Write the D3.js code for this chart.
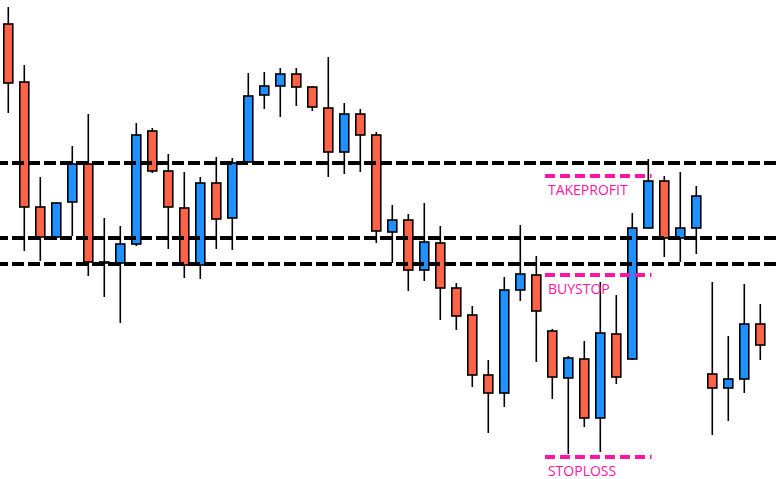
<!DOCTYPE html>
<html>
<head>
<meta charset="utf-8">
<script src="https://cdn.jsdelivr.net/npm/d3@7"></script>
<style>
  html, body { margin: 0; padding: 0; background: #fff; }
  svg { display: block; }
</style>
</head>
<body>
<div id="chart"></div>
<script>
// OHLC values (arbitrary price units)
const opens  = [455, 397, 272, 242, 277, 315, 217, 216, 235, 348, 308, 271, 214, 296, 261, 317,
                384, 393, 405, 392, 371, 327, 365, 344, 247, 259, 209, 236, 191, 164, 104, 86,
                189, 204, 148, 101, 120, 61, 145, 120, 251, 298, 241, 251, 105, 91, 100, 155];
const highs  = [472, 414, 302, 277, 333, 365, 261, 253, 356, 351, 325, 307, 302, 322, 321, 406,
                407, 411, 411, 393, 422, 376, 370, 347, 274, 265, 276, 253, 196, 173, 119, 202,
                254, 223, 150, 123, 138, 197, 184, 266, 320, 303, 307, 293, 197, 143, 195, 175];
const lows   = [366, 228, 218, 239, 243, 203, 182, 156, 233, 306, 230, 201, 200, 230, 229, 317,
                370, 362, 373, 368, 302, 305, 307, 236, 216, 188, 198, 159, 149, 92, 46, 72,
                178, 117, 80, 25, 52, 27, 95, 119, 251, 222, 217, 225, 44, 58, 86, 119];
const closes = [396, 272, 242, 276, 315, 217, 216, 235, 344, 308, 272, 214, 296, 260, 316, 383,
                393, 405, 392, 372, 327, 365, 344, 248, 259, 209, 237, 191, 163, 104, 86, 189,
                205, 168, 102, 121, 61, 146, 102, 251, 298, 241, 251, 283, 91, 100, 155, 134];

// horizontal support / resistance levels
const levels = [316, 241, 215];

// pending order levels
const orderNames  = ['TAKEPROFIT', 'BUYSTOP', 'STOPLOSS'];
const orderValues = [303, 204, 22];

const width = 780;
const height = 479;

const candles = opens.map((o, i) => ({ i: i, o: o, h: highs[i], l: lows[i], c: closes[i] }));

const svg = d3.select('#chart')
    .append('svg')
    .attr('width', width)
    .attr('height', height);

const xScale = d3.scaleLinear()
    .domain([0, candles.length - 1])
    .range([8.3, 760.3]);

const yScale = d3.scaleLinear()
    .domain([0, 479])
    .range([height, 0]);

const bodyW = 9;

// wicks
svg.append('g')
    .selectAll('line')
    .data(candles)
    .enter()
    .append('line')
    .attr('x1', d => xScale(d.i))
    .attr('x2', d => xScale(d.i))
    .attr('y1', d => yScale(d.h))
    .attr('y2', d => yScale(d.l))
    .attr('stroke', '#000')
    .attr('stroke-width', 1.6);

// bodies
svg.append('g')
    .selectAll('rect')
    .data(candles)
    .enter()
    .append('rect')
    .attr('x', d => xScale(d.i) - bodyW / 2)
    .attr('y', d => yScale(Math.max(d.o, d.c)))
    .attr('width', bodyW)
    .attr('height', d => Math.abs(yScale(d.o) - yScale(d.c)))
    .attr('fill', d => d.c >= d.o ? '#1e90ff' : '#ff6347')
    .attr('stroke', '#000')
    .attr('stroke-width', 1.6);

// black dashed levels
svg.append('g')
    .selectAll('line')
    .data(levels)
    .enter()
    .append('line')
    .attr('x1', 0)
    .attr('x2', 776)
    .attr('y1', d => yScale(d))
    .attr('y2', d => yScale(d))
    .attr('stroke', '#000')
    .attr('stroke-width', 4)
    .attr('stroke-dasharray', '12,4')
    .attr('stroke-dashoffset', 4);

// order lines + labels
const orderX0 = xScale(33.54);
const orderX1 = xScale(40.2);

const orders = svg.append('g')
    .selectAll('g')
    .data(orderNames.map((n, i) => ({ name: n, v: orderValues[i] })))
    .enter()
    .append('g');

orders.append('line')
    .attr('x1', orderX0)
    .attr('x2', orderX1)
    .attr('y1', d => yScale(d.v))
    .attr('y2', d => yScale(d.v))
    .attr('stroke', '#ff14a6')
    .attr('stroke-width', 4)
    .attr('stroke-dasharray', '10,5');

orders.append('text')
    .attr('x', orderX0 + 3)
    .attr('y', d => yScale(d.v) + 19)
    .attr('fill', '#ff14a6')
    .attr('font-family', '"Open Sans", sans-serif')
    .attr('font-size', 14)
    .text(d => d.name);
</script>
</body>
</html>
